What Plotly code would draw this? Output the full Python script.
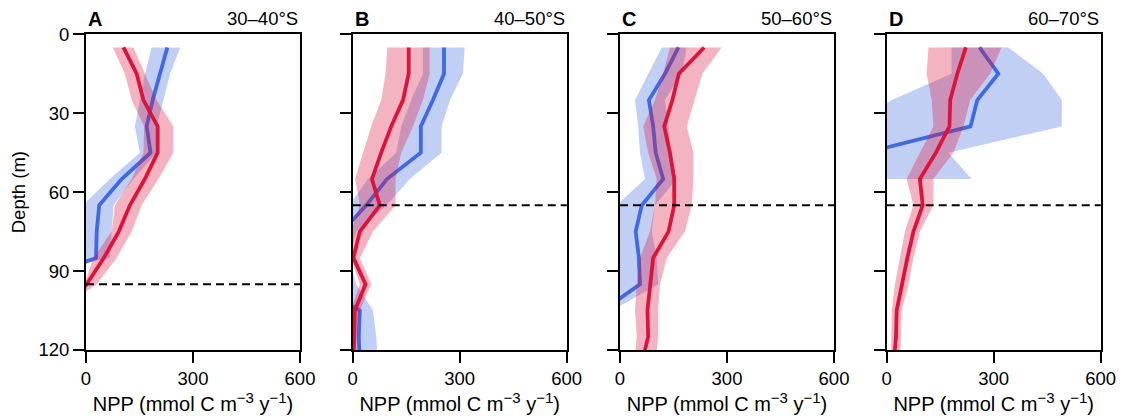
import numpy as np
import plotly.graph_objects as go
from plotly.subplots import make_subplots

nan = np.nan
depth = [5, 15, 25, 35, 45, 55, 65, 75, 85, 95, 105, 115, 125]

panels = ["A", "B", "C", "D"]
regions = ["30–40°S", "40–50°S", "50–60°S", "60–70°S"]
mld = [95, 65, 65, 65]

# red series (mean, lower, upper)
red_mean = {
    "A": [105, 142, 161, 201, 201, 165, 123, 92, 50, 2, -60, nan, nan],
    "B": [157, 157, 141, 108, 80, 54, 76, 20, 2, 36, 6, 4, 2],
    "C": [236, 165, 147, 124, 140, 152, 152, 136, 93, 84, 77, 79, 61],
    "D": [222, 198, 178, 176, 138, 93, 101, 75, 58, 42, 28, 26, 20],
}
red_lo = {
    "A": [75, 109, 128, 163, 161, 128, 81, 72, 21, -5, -150, nan, nan],
    "B": [97, 92, 80, 52, 29, 7, 20, -5, -5, 20, -5, -5, -5],
    "C": [140, 121, 98, 65, 79, 103, 98, 84, 56, 47, 42, 47, 40],
    "D": [117, 112, 126, 131, 93, 56, 75, 51, 37, 23, 14, 14, 12],
}
red_hi = {
    "A": [133, 165, 198, 245, 245, 203, 156, 128, 86, 30, -77, nan, nan],
    "B": [216, 216, 197, 169, 136, 120, 120, 57, 20, 52, 20, 12, 10],
    "C": [285, 231, 210, 187, 206, 206, 201, 182, 131, 112, 107, 107, 100],
    "D": [322, 290, 234, 215, 187, 131, 131, 93, 75, 61, 42, 39, 38],
}
# blue series (mean, lower, upper)
blue_mean = {
    "A": [228, 207, 187, 170, 181, 100, 37, 30, 28, -170, nan, nan, nan],
    "B": [256, 256, 225, 191, 191, 96, 38, -30, -60, -110, 20, 17, 20],
    "C": [164, 126, 81, 93, 100, 121, 61, 44, 53, 56, -48, nan, nan],
    "D": [260, 313, 254, 235, -59, nan, nan, nan, nan, nan, nan, nan, nan],
}
blue_lo = {
    "A": [184, 165, 151, 137, 151, 67, -10, -10, -10, -400, nan, nan, nan],
    "B": [197, 197, 164, 136, 122, 43, -10, -80, -150, -200, -20, -10, -5],
    "C": [117, 79, 42, 51, 56, 70, -10, -20, -20, -20, -100, nan, nan],
    "D": [182, 182, 14, -100, -100, -100, nan, nan, nan, nan, nan, nan, nan],
}
blue_hi = {
    "A": [264, 236, 217, 198, 198, 133, 77, 72, 67, -300, nan, nan, nan],
    "B": [314, 309, 273, 249, 249, 160, 95, 10, -10, 10, 57, 66, 71],
    "C": [187, 173, 126, 136, 140, 159, 98, 89, 103, 107, -23, nan, nan],
    "D": [341, 439, 491, 491, 173, 238, nan, nan, nan, nan, nan, nan, nan],
}

RED = "#DC143C"
BLUE = "#4169E1"
RED_F = "rgba(220,20,60,0.32)"
BLUE_F = "rgba(65,105,225,0.32)"
FONT = "Liberation Sans, Arial, sans-serif"

OFF = 8  # page body margin
W, H = 1125 - OFF, 419 - OFF
xdom = [(86, 300), (352.7, 566.7), (620, 834), (886.7, 1100.7)]
ytop, ybot = 34.3, 350


def px(xp):
    return (xp - OFF) / W


def py(yp):
    return 1 - (yp - OFF) / H


fig = make_subplots(rows=1, cols=4)
d = np.array(depth, dtype=float)

XTITLE = ("NPP (mmol C m<sup><span style='font-size:15px'>−3</span></sup>"
          " y<sup><span style='font-size:15px'>−1</span></sup>)")


def band(lo, hi):
    lo = np.array(lo, dtype=float)
    hi = np.array(hi, dtype=float)
    m = ~np.isnan(lo) & ~np.isnan(hi)
    xs = np.concatenate([lo[m], hi[m][::-1]])
    ys = np.concatenate([d[m], d[m][::-1]])
    return xs, ys


for i, p in enumerate(panels):
    c = i + 1
    bx, by = band(blue_lo[p], blue_hi[p])
    fig.add_trace(go.Scatter(x=bx, y=by, fill="toself", fillcolor=BLUE_F,
                             line=dict(width=0), mode="lines", hoverinfo="skip",
                             showlegend=False), row=1, col=c)
    fig.add_trace(go.Scatter(x=blue_mean[p], y=depth, mode="lines",
                             line=dict(color=BLUE, width=3.8), showlegend=False),
                  row=1, col=c)
    rx, ry = band(red_lo[p], red_hi[p])
    fig.add_trace(go.Scatter(x=rx, y=ry, fill="toself", fillcolor=RED_F,
                             line=dict(width=0), mode="lines", hoverinfo="skip",
                             showlegend=False), row=1, col=c)
    fig.add_trace(go.Scatter(x=red_mean[p], y=depth, mode="lines",
                             line=dict(color=RED, width=3.8), showlegend=False),
                  row=1, col=c)
    xa = "x" if c == 1 else f"x{c}"
    ya = "y" if c == 1 else f"y{c}"
    fig.add_shape(type="line", xref=f"{xa} domain", x0=0, x1=1, yref=ya,
                  y0=mld[i], y1=mld[i],
                  line=dict(color="black", width=2, dash="8px,5px"))
    x0, x1 = xdom[i]
    fig.update_xaxes(domain=[px(x0), px(x1)], range=[0, 600], tickvals=[0, 300, 600],
                     ticks="outside", ticklen=11, tickwidth=1.8, tickcolor="black",
                     showline=True, linewidth=1.8, linecolor="black", mirror=True,
                     showgrid=False, zeroline=False, automargin=False,
                     tickfont=dict(size=18.5, color="black", family=FONT),
                     title=dict(text=XTITLE,
                                font=dict(size=20, color="black", family=FONT),
                                standoff=3),
                     row=1, col=c)
    fig.update_yaxes(domain=[py(ybot), py(ytop)], range=[120, 0],
                     tickvals=[0, 30, 60, 90, 120],
                     ticks="outside", ticklen=11, tickwidth=1.8, tickcolor="black",
                     showline=True, linewidth=1.8, linecolor="black", mirror=True,
                     showgrid=False, zeroline=False, showticklabels=(c == 1),
                     automargin=False,
                     tickfont=dict(size=18.5, color="black", family=FONT),
                     row=1, col=c)
    fig.add_annotation(text=f"<b>{p}</b>", xref="paper", x=px(x0), xanchor="left",
                       yref="paper", y=py(19), yanchor="middle", showarrow=False,
                       font=dict(size=20, color="black", family=FONT))
    fig.add_annotation(text=regions[i], xref="paper", x=px(x1), xanchor="right",
                       yref="paper", y=py(19), yanchor="middle", showarrow=False,
                       font=dict(size=18.5, color="black", family=FONT))

fig.update_yaxes(title=dict(text="Depth (m)", font=dict(size=18.5, color="black", family=FONT),
                            standoff=8), row=1, col=1)

fig.update_layout(width=W, height=H, margin=dict(l=0, r=0, t=0, b=0),
                  plot_bgcolor="white", paper_bgcolor="white",
                  font=dict(family=FONT, color="black"), showlegend=False)

fig.write_html("out.html")
